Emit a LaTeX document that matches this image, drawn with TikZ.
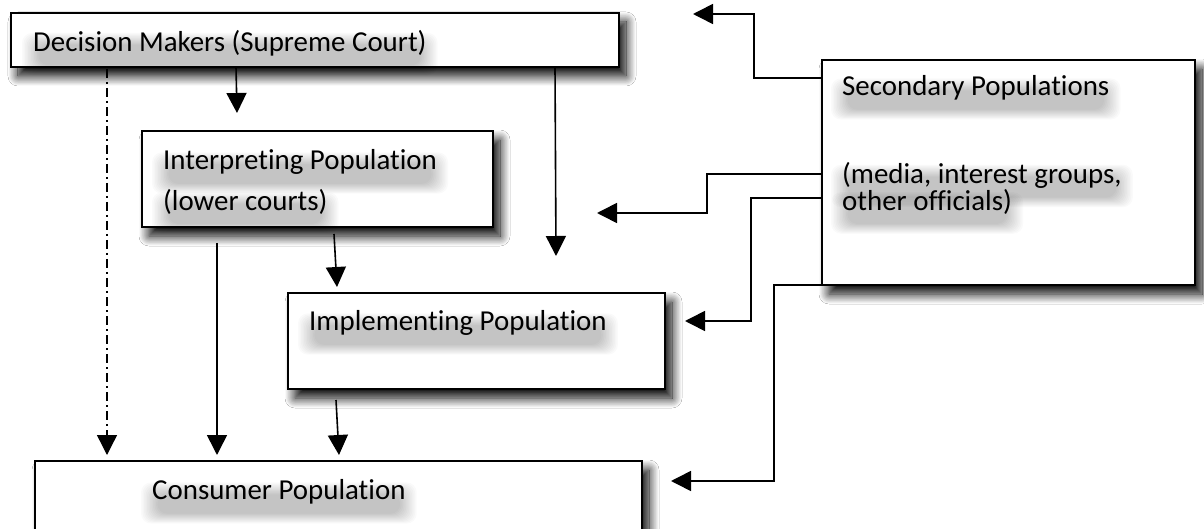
\documentclass[tikz,border=0pt]{standalone}
\usepackage{fontspec}
\setmainfont{Carlito}[Ligatures=NoCommon, RawFeature={-liga;-dlig}]
\usetikzlibrary{arrows.meta,shadows.blur,calc}
\pgfdeclarelayer{boxlayer}
\pgfdeclarelayer{shadowlayer}
\pgfsetlayers{boxlayer,shadowlayer,main}
\newcommand{\txtshadow}[1]{%
  \begin{pgfonlayer}{shadowlayer}
  \foreach \i in {0,...,11} {
    \fill[black, opacity=0.02, rounded corners=10pt]
      ($(#1.north west)+(-10+1.5*\i, 4+1.1*\i)$) rectangle ($(#1.south east)+(10-1.5*\i, 18-0.9*\i)$);
  }
  \end{pgfonlayer}}
\begin{document}
\begin{tikzpicture}[x=1pt,y=-1pt,
  box/.style={draw, line width=1.8pt, fill=white, anchor=north west, inner sep=0pt, outer sep=0pt,
    blur shadow={shadow xshift=7pt, shadow yshift=-9pt, shadow blur radius=10pt, shadow blur steps=16, shadow opacity=100}},
  lbl/.style={anchor=west, inner sep=1pt, font=\fontsize{28.9}{34}\selectfont},
  conn/.style={line width=1.6pt, -{Triangle[length=20pt,width=20pt]}},
  dashdot/.style={line width=1.4pt, dash pattern=on 9pt off 4pt on 2pt off 4pt, -{Triangle[length=20pt,width=20pt]}}]
\clip (0,0) rectangle (1204,529);
\begin{pgfonlayer}{boxlayer}
\fill[white] (0,0) rectangle (1204,529);
% boxes
\node[box, minimum width=608pt, minimum height=54pt] (dm) at (11,13) {};
\node[box, minimum width=351pt, minimum height=96pt] (interp) at (142,131) {};
\node[box, minimum width=377pt, minimum height=96pt] (impl) at (288,293) {};
\node[box, minimum width=607pt, minimum height=110pt] (cons) at (35,461) {};
\node[box, minimum width=373pt, minimum height=225pt] (sec) at (822,60) {};
\end{pgfonlayer}
% labels
\node[lbl] (tdm) at (32,43) {Decision Makers (Supreme Court)};
\node[lbl] (tint1) at (162,162) {Interpreting Population};
\node[lbl] (tint2) at (162,202) {(lower courts)};
\node[lbl] (timp) at (308,323) {Implementing Population};
\node[lbl] (tcon) at (151,492) {Consumer Population};
\node[lbl] (tsec1) at (841,88) {Secondary Populations};
\node[lbl] (tsec2) at (841,175) {(media, interest groups,};
\node[lbl] (tsec3) at (841,202) {other officials)};
\txtshadow{tdm}\txtshadow{tint1}\txtshadow{tint2}\txtshadow{timp}
\txtshadow{tcon}\txtshadow{tsec1}\txtshadow{tsec2}\txtshadow{tsec3}
% connector end points
\coordinate (dmA) at (236,67);   \coordinate (intTop) at (237,113);
\coordinate (dmB) at (107,69);   \coordinate (conA) at (107,455);
\coordinate (dmC) at (555,67);   \coordinate (freeC) at (556,256);
\coordinate (intA) at (334,234); \coordinate (impTop) at (337,287);
\coordinate (intB) at (217,243); \coordinate (conB) at (217,455);
\coordinate (impA) at (336,400); \coordinate (conC) at (339,455);
\coordinate (s1) at (822,78);    \coordinate (e1) at (693,14);
\coordinate (s2) at (822,174);   \coordinate (e2) at (597,213);
\coordinate (s3) at (822,198);   \coordinate (e3) at (685,321);
\coordinate (s4) at (879,285);   \coordinate (e4) at (671,481);
% connectors
\draw[conn] (dmA) -- (intTop);
\draw[dashdot] (dmB) -- (conA);
\draw[conn] (dmC) -- (freeC);
\draw[conn] (intA) -- (impTop);
\draw[conn] (intB) -- (conB);
\draw[conn] (impA) -- (conC);
\draw[conn] (s1) -- (754,78) |- (e1);
\draw[conn] (s2) -- (707,174) |- (e2);
\draw[conn] (s3) -- (751,198) |- (e3);
\draw[conn] (s4) -- (774,285) |- (e4);
\end{tikzpicture}
\end{document}
